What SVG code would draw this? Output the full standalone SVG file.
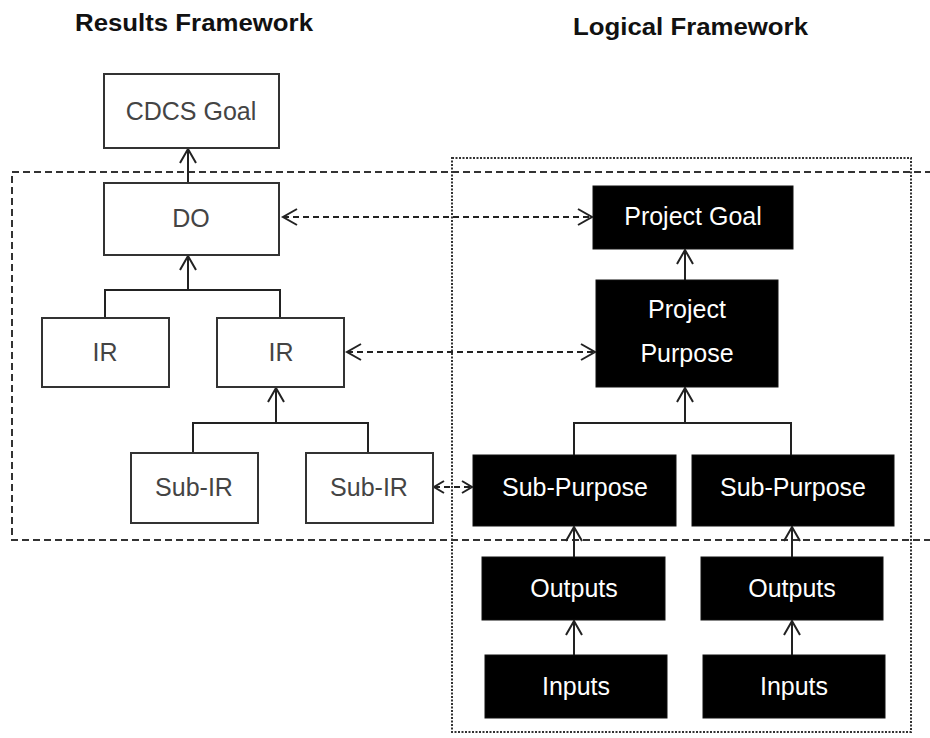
<svg xmlns="http://www.w3.org/2000/svg" width="930" height="738" viewBox="0 0 930 738">
<defs>
<style>
.title{font-family:"Liberation Sans",Arial,sans-serif;font-weight:bold;font-size:23px;fill:#111}
.wb{fill:#fff;stroke:#333;stroke-width:2}
.bb{fill:#000;stroke:#111;stroke-width:1}
.wt{font-family:"Liberation Sans",Arial,sans-serif;font-size:25px;fill:#444;text-anchor:middle}
.bt{font-family:"Liberation Sans",Arial,sans-serif;font-size:25px;fill:#fff;text-anchor:middle}
.ln{fill:none;stroke:#222;stroke-width:2}
.da{fill:none;stroke:#222;stroke-width:2;stroke-dasharray:6 4}
.region1{fill:none;stroke:#333;stroke-width:2;stroke-dasharray:7 4}
.region2{fill:none;stroke:#333;stroke-width:2;stroke-dasharray:2 1.5}
</style>
<marker id="ah" markerUnits="userSpaceOnUse" markerWidth="20" markerHeight="20" viewBox="-16 -10 20 20" refX="0" refY="0" orient="auto-start-reverse">
<path d="M -14 -8 L 0 0 L -14 8" fill="none" stroke="#222" stroke-width="2"/>
</marker>
<marker id="ahs" markerUnits="userSpaceOnUse" markerWidth="16" markerHeight="16" viewBox="-12 -8 16 16" refX="0" refY="0" orient="auto-start-reverse">
<path d="M -10 -6 L 0 0 L -10 6" fill="none" stroke="#222" stroke-width="2"/>
</marker>
</defs>
<rect width="930" height="738" fill="#fff"/>
<text class="title" x="75" y="31" textLength="238" lengthAdjust="spacingAndGlyphs">Results Framework</text>
<text class="title" x="573" y="35" textLength="235" lengthAdjust="spacingAndGlyphs">Logical Framework</text>
<g id="regions">
<rect class="region1" x="12" y="172" width="930" height="368"/>
<rect class="region2" x="452" y="158" width="459" height="574"/>
</g>
<g id="connectors">
<line class="ln" x1="188" y1="183" x2="188" y2="149" marker-end="url(#ah)"/>
<polyline class="ln" points="105,318 105,290 280,290 280,318"/>
<line class="ln" x1="188" y1="290" x2="188" y2="256" marker-end="url(#ah)"/>
<polyline class="ln" points="193,453 193,423 368,423 368,453"/>
<line class="ln" x1="276" y1="423" x2="276" y2="388" marker-end="url(#ah)"/>
<line class="da" x1="283" y1="217" x2="592" y2="217" marker-start="url(#ah)" marker-end="url(#ah)"/>
<line class="da" x1="347" y1="352" x2="595" y2="352" marker-start="url(#ah)" marker-end="url(#ah)"/>
<line class="da" x1="434" y1="487" x2="472" y2="487" marker-start="url(#ahs)" marker-end="url(#ahs)"/>
<line class="ln" x1="685" y1="280" x2="685" y2="250" marker-end="url(#ah)"/>
<polyline class="ln" points="574,455 574,423 791,423 791,455"/>
<line class="ln" x1="685" y1="423" x2="685" y2="388" marker-end="url(#ah)"/>
<line class="ln" x1="574" y1="557" x2="574" y2="527" marker-end="url(#ah)"/>
<line class="ln" x1="792" y1="557" x2="792" y2="527" marker-end="url(#ah)"/>
<line class="ln" x1="574" y1="655" x2="574" y2="621" marker-end="url(#ah)"/>
<line class="ln" x1="792" y1="655" x2="792" y2="621" marker-end="url(#ah)"/>
</g>
<g id="cdcs-goal"><rect class="wb" x="104" y="74" width="175" height="74"/><text class="wt" x="191" y="120">CDCS Goal</text></g>
<g id="do"><rect class="wb" x="104" y="183" width="175" height="72"/><text class="wt" x="191" y="227">DO</text></g>
<g id="ir-1"><rect class="wb" x="42" y="318" width="127" height="69"/><text class="wt" x="105" y="361">IR</text></g>
<g id="ir-2"><rect class="wb" x="217" y="318" width="127" height="69"/><text class="wt" x="281" y="361">IR</text></g>
<g id="sub-ir-1"><rect class="wb" x="131" y="453" width="127" height="70"/><text class="wt" x="194" y="496">Sub-IR</text></g>
<g id="sub-ir-2"><rect class="wb" x="306" y="453" width="127" height="70"/><text class="wt" x="369" y="496">Sub-IR</text></g>
<g id="project-goal"><rect class="bb" x="593" y="186" width="200" height="63"/><text class="bt" x="693" y="225">Project Goal</text></g>
<g id="project-purpose"><rect class="bb" x="596" y="280" width="182" height="107"/><text class="bt" x="687" y="318">Project</text><text class="bt" x="687" y="362">Purpose</text></g>
<g id="sub-purpose-1"><rect class="bb" x="473" y="455" width="203" height="71"/><text class="bt" x="575" y="496">Sub-Purpose</text></g>
<g id="sub-purpose-2"><rect class="bb" x="692" y="455" width="202" height="71"/><text class="bt" x="793" y="496">Sub-Purpose</text></g>
<g id="outputs-1"><rect class="bb" x="482" y="557" width="183" height="63"/><text class="bt" x="574" y="597">Outputs</text></g>
<g id="outputs-2"><rect class="bb" x="701" y="557" width="182" height="63"/><text class="bt" x="792" y="597">Outputs</text></g>
<g id="inputs-1"><rect class="bb" x="485" y="655" width="182" height="63"/><text class="bt" x="576" y="695">Inputs</text></g>
<g id="inputs-2"><rect class="bb" x="703" y="655" width="182" height="63"/><text class="bt" x="794" y="695">Inputs</text></g>
</svg>
